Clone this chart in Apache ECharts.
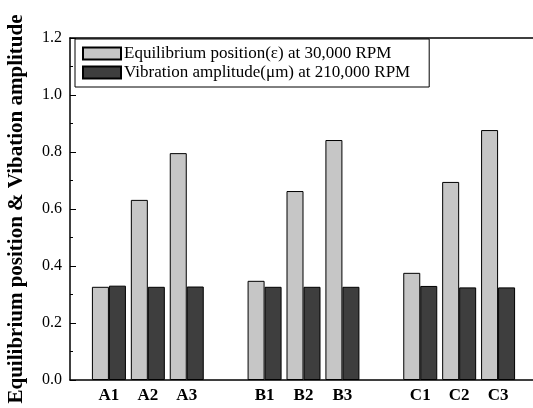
<!DOCTYPE html>
<html>
<head>
<meta charset="utf-8">
<script src="https://cdn.jsdelivr.net/npm/echarts@6/dist/echarts.min.js"></script>
<style>
  html, body { margin: 0; padding: 0; background: #fff; }
  #chart { width: 533px; height: 408px; }
</style>
</head>
<body>
<div id="chart"></div>
<script>
// categories (blank slots are the gaps between groups)
const categories = ['', 'A1', 'A2', 'A3', '', 'B1', 'B2', 'B3', '', 'C1', 'C2', 'C3', '']
const equilibrium = [null, 0.327, 0.632, 0.796, null, 0.348, 0.663, 0.842, null, 0.376, 0.695, 0.877, null]
const vibration = [null, 0.331, 0.327, 0.328, null, 0.327, 0.327, 0.327, null, 0.33, 0.325, 0.325, null]
const seriesNames = ['Equilibrium position(ε) at 30,000 RPM', 'Vibration amplitude(μm) at 210,000 RPM']
const yName = 'Equilibrium position & Vibation amplitude'

const serif = 'Liberation Serif'
const chart = echarts.init(document.getElementById('chart'))

chart.setOption({
  animation: false,
  textStyle: { fontFamily: serif },
  grid: { left: 70, right: -4, top: 38, bottom: 28, outerBoundsMode: 'none' },
  legend: {
    orient: 'vertical',
    left: 75,
    top: 39,
    padding: [6, 19, 6, 7],
    icon: 'rect',
    itemWidth: 38,
    itemHeight: 12,
    itemGap: 2,
    borderColor: '#000',
    borderWidth: 1,
    backgroundColor: '#fff',
    textStyle: { fontFamily: serif, fontSize: 17, color: '#000', padding: [0, 0, 0, -2] },
    data: seriesNames
  },
  xAxis: [{
    type: 'category',
    data: categories,
    boundaryGap: false,
    axisLine: { lineStyle: { color: '#000', width: 1.5 } },
    axisTick: { show: false },
    axisLabel: { interval: 0, margin: 7, color: '#000', fontFamily: serif, fontWeight: 'bold', fontSize: 17 }
  }, {
    type: 'category',
    data: categories,
    position: 'top',
    boundaryGap: false,
    axisLine: { lineStyle: { color: '#000', width: 1.5 } },
    axisTick: { show: false },
    axisLabel: { show: false }
  }],
  yAxis: {
    type: 'value',
    min: 0,
    max: 1.2,
    interval: 0.2,
    name: yName,
    nameLocation: 'middle',
    nameGap: 43,
    nameTextStyle: { fontFamily: serif, fontWeight: 'bold', fontSize: 21, color: '#000' },
    axisLine: { show: true, lineStyle: { color: '#000', width: 1.5 } },
    axisTick: { show: true, inside: true, length: 6, lineStyle: { color: '#000' } },
    minorTick: { show: true, splitNumber: 2, length: 3, lineStyle: { color: '#000' } },
    splitLine: { show: false },
    axisLabel: {
      margin: 8, color: '#000', fontFamily: serif, fontSize: 16,
      formatter: v => v.toFixed(1)
    }
  },
  series: [{
    name: seriesNames[0],
    type: 'bar',
    data: equilibrium,
    barWidth: 17,
    barGap: '0%',
    itemStyle: { color: '#c6c6c6', borderColor: '#000', borderWidth: 1 }
  }, {
    name: seriesNames[1],
    type: 'bar',
    data: vibration,
    barWidth: 17,
    barGap: '0%',
    itemStyle: { color: '#3e3e3e', borderColor: '#000', borderWidth: 1 }
  }]
})
</script>
</body>
</html>
